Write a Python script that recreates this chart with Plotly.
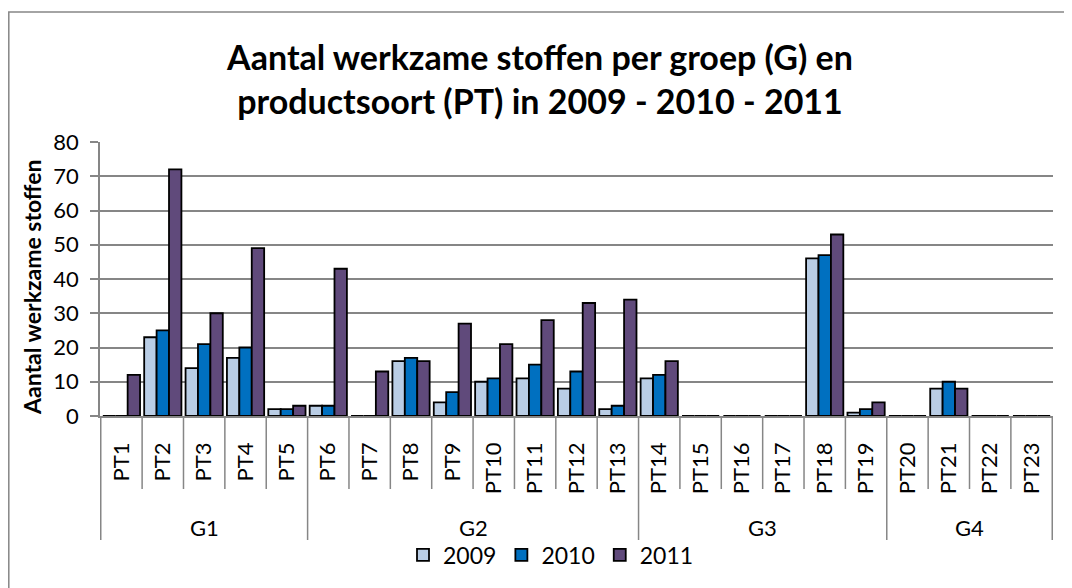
import plotly.graph_objects as go

# product types and their groups
pt_labels = ["PT" + str(i) for i in range(1, 24)]
group_names = ["G1", "G2", "G3", "G4"]
group_sizes = [5, 8, 6, 4]

years = ["2009", "2010", "2011"]
vals_2009 = [0, 23, 14, 17, 2, 3, 0, 16, 4, 10, 11, 8, 2, 11, 0, 0, 0, 46, 1, 0, 8, 0, 0]
vals_2010 = [0, 25, 21, 20, 2, 3, 0, 17, 7, 11, 15, 13, 3, 12, 0, 0, 0, 47, 2, 0, 10, 0, 0]
vals_2011 = [12, 72, 30, 49, 3, 43, 13, 16, 27, 21, 28, 33, 34, 16, 0, 0, 0, 53, 4, 0, 8, 0, 0]

colors = ["#B9CDE5", "#0070C0", "#604A7B"]
grid = "#868686"
font = "Lato"

fig = go.Figure()
for name, vals, col in zip(years, [vals_2009, vals_2010, vals_2011], colors):
    fig.add_trace(go.Bar(x=pt_labels, y=vals, name=name,
                         marker=dict(color=col, line=dict(color="black", width=1.8))))

# plot area in figure pixels (page body adds 8px offset)
L, T, W, H = 92, 134, 953, 274

def ypap(p):
    return (T + H - p) / H

def xpap(p):
    return (p - L) / W

shapes = []
# separators between categories, longer ones between groups
bounds = [-0.5]
acc = -0.5
for s in group_sizes:
    acc += s
    bounds.append(acc)
for i in range(len(pt_labels) + 1):
    xb = i - 0.5
    low = ypap(532) if xb in bounds else ypap(481)
    shapes.append(dict(type="line", xref="x", yref="paper", x0=xb, x1=xb, y0=0, y1=low,
                       line=dict(color=grid, width=1.5)))
# outer chart frame
shapes.append(dict(type="rect", xref="paper", yref="paper", x0=xpap(0.8), x1=xpap(1100),
                   y0=ypap(620), y1=ypap(4), line=dict(color=grid, width=1.5),
                   fillcolor="rgba(0,0,0,0)", layer="below"))

annotations = []
start = 0
for g, s in zip(group_names, group_sizes):
    annotations.append(dict(text=g, x=start + (s - 1) / 2, xref="x", y=ypap(519), yref="paper",
                            xanchor="center", yanchor="middle", showarrow=False,
                            font=dict(family=font, size=22, color="black")))
    start += s
annotations.append(dict(text="<b>Aantal werkzame stoffen</b>", textangle=-90, x=xpap(24), xref="paper",
                        y=ypap(280), yref="paper", xanchor="center", yanchor="middle", showarrow=False,
                        font=dict(family=font, size=23, color="black")))

fig.update_layout(
    width=1072, height=588,
    margin=dict(l=L, r=1072 - L - W, t=T, b=588 - T - H),
    paper_bgcolor="white", plot_bgcolor="white",
    title=dict(text="<b>Aantal werkzame stoffen per groep (G) en<br>productsoort (PT) in 2009 - 2010 - 2011</b>",
               x=532 / 1072, xanchor="center", y=1 - 62 / 588, yanchor="middle",
               font=dict(family=font, size=34, color="black")),
    barmode="group", bargap=0.1, bargroupgap=0,
    showlegend=True,
    legend=dict(orientation="h", x=xpap(543), xanchor="center", y=ypap(547), yanchor="middle",
                font=dict(family=font, size=23, color="black"), traceorder="normal",
                itemwidth=30, bgcolor="rgba(0,0,0,0)"),
    font=dict(family=font, size=22, color="black"),
    shapes=shapes, annotations=annotations,
)
fig.update_xaxes(type="category", tickangle=-90, showgrid=False, ticks="",
                 showline=True, linecolor=grid, linewidth=1.5, ticklabelstandoff=16,
                 tickfont=dict(family=font, size=22, color="black"))
fig.update_yaxes(range=[0, 80], dtick=10, showgrid=True, gridcolor=grid, gridwidth=1.5,
                 showline=True, linecolor=grid, linewidth=1.5, ticks="outside", ticklen=8,
                 tickcolor=grid, tickwidth=1.5, zeroline=False, ticklabelstandoff=7,
                 tickfont=dict(family=font, size=22, color="black"))

fig.write_html("out.html")
